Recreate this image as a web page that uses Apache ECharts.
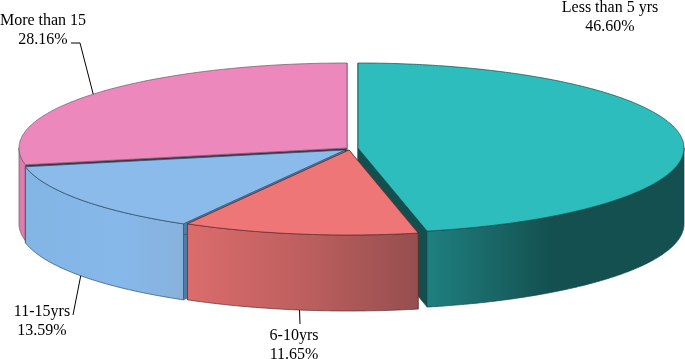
<!DOCTYPE html>
<html>
<head>
<meta charset="utf-8">
<style>html,body{margin:0;padding:0;background:#fff;overflow:hidden}#c{width:685px;height:359px}</style>
<script src="https://cdn.jsdelivr.net/npm/echarts@6/dist/echarts.min.js"></script>
</head>
<body>
<div id="c"></div>
<script>
const categories = ['Less than 5 yrs', '6-10yrs', '11-15yrs', 'More than 15'];
const values = [46.60, 11.65, 13.59, 28.16];

// styling and layout, one entry per category
const centers = [[358, 148], [349, 150], [345, 150], [347, 148]];
const radiiX = [326, 326, 326, 328];
const RY = 85, DEPTH = 76;
const topColors = ['#2DBDBD', '#EF7676', '#8BBBEB', '#EC88BB'];
const rimColors = ['#124A4A', '#5E2E2E', '#2F4A66', '#6A5A66'];
const cutColors = ['#134F4F', '#8A4A4A', '#4F7CA6', '#4A2A44'];
const wallStops = [
  [[0, '#1F8080'], [0.2, '#1B6C6C'], [0.48, '#145050'], [1, '#145050']],
  [[0, '#DB6C6C'], [0.5, '#BE5F5F'], [1, '#964E4E']],
  [[0, '#82B4E4'], [0.6, '#86B8EA'], [1, '#88B2DC']],
  [[0, '#DC7DAD'], [1, '#DC7DAD']]
];
const labelPos = [[610, 17], [294, 345], [42, 321], [43, 30]];
const leaderPath = [null, [[300, 324]], [[73, 315]], [[80, 43], [71, 43]]];
const drawOrder = [3, 0, 2, 1];

const total = values.reduce((a, b) => a + b, 0);
const starts = [];
values.reduce((acc, v, i) => { starts[i] = acc / total * 2 * Math.PI; return acc + v; }, 0);

function rimPt(i, t, dz) {
  return [centers[i][0] + radiiX[i] * Math.sin(t), centers[i][1] - RY * Math.cos(t) + (dz || 0)];
}
function arc(i, a, b, dz) {
  const n = Math.max(2, Math.ceil(Math.abs(b - a) / 0.01));
  const out = [];
  for (let k = 0; k <= n; k++) out.push(rimPt(i, a + (b - a) * k / n, dz));
  return out;
}

function renderItem(params, api) {
  const i = drawOrder[params.dataIndex];
  const a = starts[i];
  const b = a + api.value(0) / total * 2 * Math.PI;
  const c = centers[i];
  const children = [];
  const poly = (points, fill, stroke, lw) => children.push({
    type: 'polygon', shape: { points: points },
    style: { fill: fill, stroke: stroke, lineWidth: lw, lineJoin: 'round' }, silent: true
  });
  const apexLow = [c[0], c[1] + DEPTH];
  // cut faces
  [a, b].forEach(t => {
    const p = rimPt(i, t), q = rimPt(i, t, DEPTH);
    poly([c, p, q, apexLow], cutColors[i], rimColors[i], 0.6);
  });
  // outer front wall
  const fa = Math.max(a, Math.PI / 2), fb = Math.min(b, 3 * Math.PI / 2);
  if (fb > fa) {
    const wall = arc(i, fa, fb, 0).concat(arc(i, fb, fa, DEPTH));
    poly(wall, new echarts.graphic.LinearGradient(0, 0, 1, 0,
      wallStops[i].map(s => ({ offset: s[0], color: s[1] }))),
      rimColors[i], 0.7);
  }
  // top face
  poly([c].concat(arc(i, a, b, 0)), topColors[i], rimColors[i], 0.7);
  // label and leader
  const mid = (a + b) / 2;
  const path = leaderPath[i];
  if (path) {
    const onFront = Math.cos(mid) < 0 && i !== 3;
    const anchor = rimPt(i, mid, onFront ? DEPTH : 0);
    children.push({
      type: 'polyline', shape: { points: [anchor].concat(path) },
      style: { fill: null, stroke: '#000', lineWidth: 1 }, silent: true
    });
  }
  children.push({
    type: 'text', x: labelPos[i][0], y: labelPos[i][1], silent: true,
    style: {
      text: categories[i] + '\n' + api.value(0).toFixed(2) + '%',
      font: '16px "Liberation Serif", serif', fill: '#000',
      align: 'center', verticalAlign: 'middle', lineHeight: 19
    }
  });
  return { type: 'group', children: children };
}

const chart = echarts.init(document.getElementById('c'), null, { renderer: 'canvas' });
chart.setOption({
  animation: false,
  backgroundColor: '#fff',
  series: [{
    type: 'custom',
    coordinateSystem: 'none',
    clip: false,
    renderItem: renderItem,
    silent: true,
    data: drawOrder.map(i => ({ name: categories[i], value: [values[i]] }))
  }]
});
</script>
</body>
</html>
